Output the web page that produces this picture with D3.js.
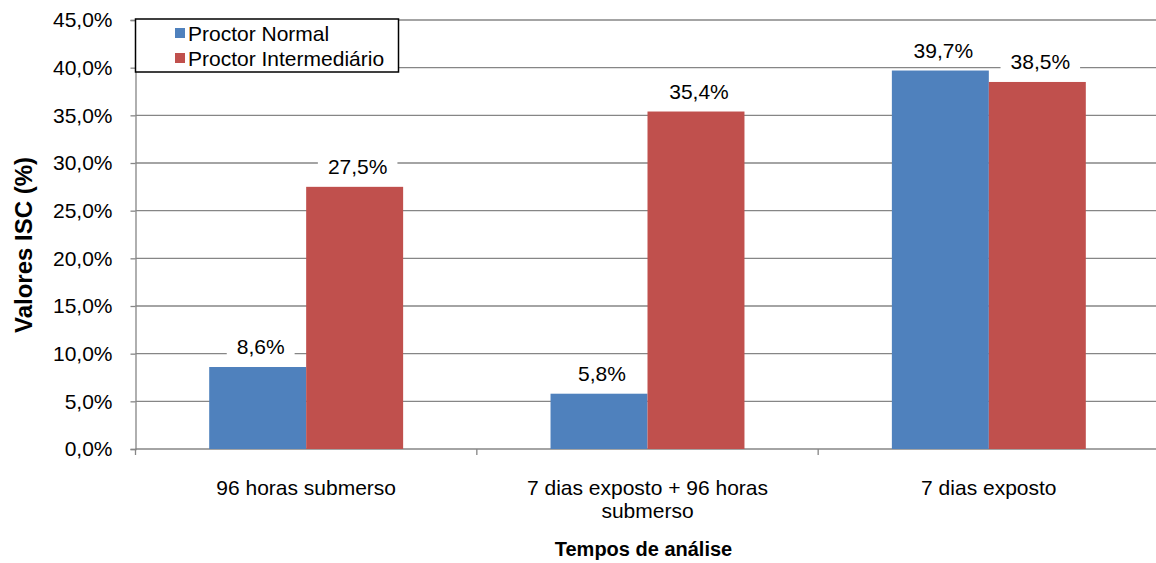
<!DOCTYPE html>
<html>
<head>
<meta charset="utf-8">
<script src="https://cdn.jsdelivr.net/npm/d3@7"></script>
<style>
body { margin: 0; background: #fff; }
svg { display: block; font-family: "Liberation Sans", Arial, sans-serif; }
</style>
</head>
<body>
<div id="graph"></div>
<script>
// dados
var categorias = [['96 horas submerso'], ['7 dias exposto + 96 horas', 'submerso'], ['7 dias exposto']]
var series = ['Proctor Normal', 'Proctor Intermediário']
var proctorNormal = [8.6, 5.8, 39.7]
var proctorIntermediario = [27.5, 35.4, 38.5]
var yTicks = [0, 5, 10, 15, 20, 25, 30, 35, 40, 45]
var cores = ['#4F81BD', '#C0504D']

var width = 1156, height = 563
var svg = d3.select('#graph').append('svg')
	.attr('width', width)
	.attr('height', height)

var pLeft = 135.5, pRight = 1159.5, pTop = 20, pBottom = 449
var grid = '#868686'

var x0 = d3.scaleBand()
	.domain(d3.range(categorias.length))
	.range([pLeft, pRight])
var x1 = d3.scaleBand()
	.domain(series)
	.range([0, x0.bandwidth()])
	.paddingOuter(0.76)
var y = d3.scaleLinear()
	.domain([0, 45])
	.range([pBottom, pTop])

function fmt(v) { return d3.format('.1f')(v).replace('.', ',') + '%' }

// linhas de grade
svg.append('g').selectAll('line')
	.data(yTicks.slice(1))
	.enter().append('line')
	.attr('x1', pLeft).attr('x2', width)
	.attr('y1', function(d) { return y(d) }).attr('y2', function(d) { return y(d) })
	.attr('stroke', grid).attr('stroke-width', 1.3)

// eixo y
var yAxis = svg.append('g')
	.attr('transform', 'translate(' + pLeft + ',0)')
	.call(d3.axisLeft(y).tickValues(yTicks).tickSize(5).tickPadding(18).tickFormat(fmt))
yAxis.select('.domain').attr('stroke', grid).attr('stroke-width', 1.3)
yAxis.selectAll('.tick line').attr('stroke', grid).attr('stroke-width', 1.3)
yAxis.selectAll('text').attr('font-size', 21).attr('fill', '#000')
	.attr('font-family', '"Liberation Sans", Arial, sans-serif')

// eixo x
svg.append('line')
	.attr('x1', pLeft).attr('x2', width)
	.attr('y1', pBottom).attr('y2', pBottom)
	.attr('stroke', grid).attr('stroke-width', 1.3)
svg.append('g').selectAll('line')
	.data(d3.range(categorias.length + 1))
	.enter().append('line')
	.attr('x1', function(i) { return pLeft + i * x0.step() })
	.attr('x2', function(i) { return pLeft + i * x0.step() })
	.attr('y1', pBottom).attr('y2', pBottom + 6)
	.attr('stroke', grid).attr('stroke-width', 1.3)

var dados = series.map(function(s, k) {
	var vals = k === 0 ? proctorNormal : proctorIntermediario
	return vals.map(function(v, i) { return { serie: s, cat: i, valor: v, k: k } })
})
var todos = dados[0].concat(dados[1])

// barras
svg.append('g').selectAll('rect')
	.data(todos)
	.enter().append('rect')
	.attr('x', function(d) { return x0(d.cat) + x1(d.serie) })
	.attr('y', function(d) { return y(d.valor) })
	.attr('width', x1.bandwidth())
	.attr('height', function(d) { return y(0) - y(d.valor) })
	.attr('fill', function(d) { return cores[d.k] })

// rotulos de dados
var rot = svg.append('g').selectAll('g')
	.data(todos)
	.enter().append('g')
	.attr('transform', function(d) {
		return 'translate(' + (x0(d.cat) + x1(d.serie) + x1.bandwidth() / 2 + 3) + ',' + (y(d.valor) - 13) + ')'
	})
rot.append('rect')
	.attr('y', -22).attr('height', 28)
	.attr('fill', '#fff')
rot.append('text')
	.attr('text-anchor', 'middle')
	.attr('font-size', 21)
	.text(function(d) { return fmt(d.valor) })
rot.each(function() {
	var g = d3.select(this)
	var w = g.select('text').node().getComputedTextLength() + 20
	g.select('rect').attr('x', -w / 2).attr('width', w)
})

// rotulos de categoria
var cat = svg.append('g').selectAll('text')
	.data(categorias)
	.enter().append('text')
	.attr('text-anchor', 'middle')
	.attr('font-size', 21)
	.attr('x', function(d, i) { return x0(i) + x0.bandwidth() / 2 })
	.attr('y', 495)
cat.selectAll('tspan')
	.data(function(d) { return d })
	.enter().append('tspan')
	.attr('x', function() { return d3.select(this.parentNode).attr('x') })
	.attr('dy', function(d, i) { return i === 0 ? 0 : 23 })
	.text(function(d) { return d })

// titulos dos eixos
svg.append('text')
	.attr('x', (pLeft + pRight) / 2 - 4).attr('y', 556)
	.attr('text-anchor', 'middle')
	.attr('font-size', 20).attr('font-weight', 'bold')
	.text('Tempos de análise')
svg.append('text')
	.attr('transform', 'translate(32,245) rotate(-90)')
	.attr('text-anchor', 'middle')
	.attr('font-size', 24).attr('font-weight', 'bold')
	.text('Valores ISC (%)')

// legenda
var leg = svg.append('g')
leg.append('rect')
	.attr('x', 135.5).attr('y', 19).attr('width', 263).attr('height', 53)
	.attr('fill', '#fff').attr('stroke', '#000').attr('stroke-width', 1.5)
var item = leg.selectAll('g')
	.data(series)
	.enter().append('g')
	.attr('transform', function(d, i) { return 'translate(175,' + (41 + i * 25) + ')' })
item.append('rect')
	.attr('x', 0).attr('y', -13).attr('width', 10).attr('height', 10)
	.attr('fill', function(d, i) { return cores[i] })
item.append('text')
	.attr('x', 13)
	.attr('font-size', 21)
	.text(function(d) { return d })
</script>
</body>
</html>
